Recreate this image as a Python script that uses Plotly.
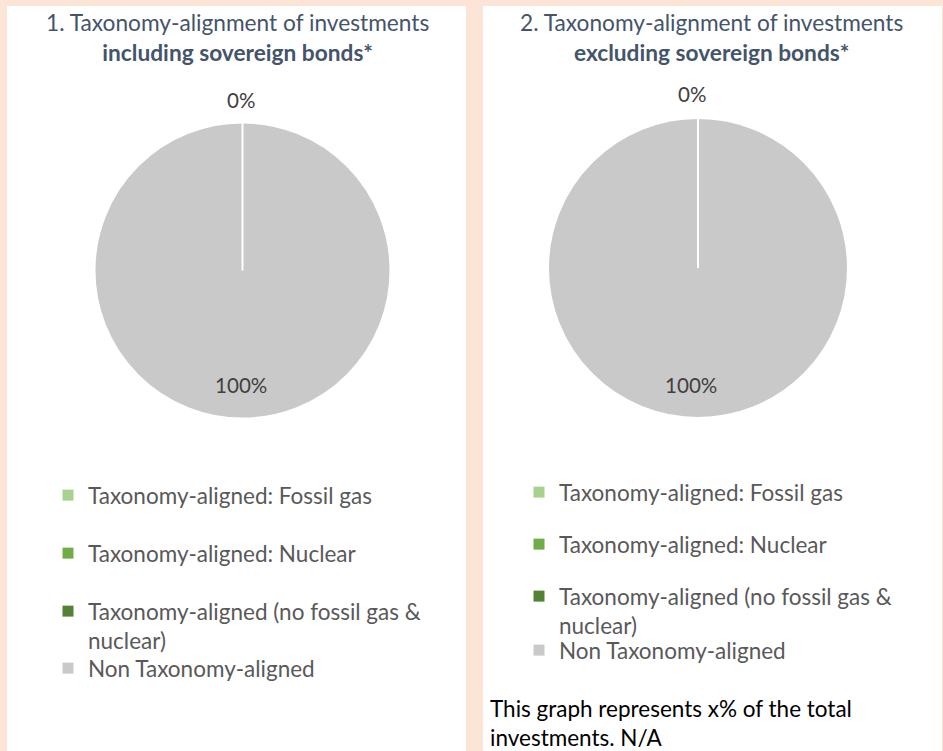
import plotly.graph_objects as go

W, H = 943, 751

categories = [
    "Taxonomy-aligned: Fossil gas",
    "Taxonomy-aligned: Nuclear",
    "Taxonomy-aligned (no fossil gas &<br>nuclear)",
    "Non Taxonomy-aligned",
]
colors = ["#A9D18E", "#70AD47", "#548235", "#C9C9C9"]

values_incl = [0, 0, 0, 100]
values_excl = [0, 0, 0, 100]

titles = [
    "1. Taxonomy-alignment of investments<br><b>including sovereign bonds*</b>",
    "2. Taxonomy-alignment of investments<br><b>excluding sovereign bonds*</b>",
]
footnote = "This graph represents x% of the total<br>investments. N/A"

FONT = "Lato"
LEG_FS = 22.5


def px_x(v):
    return v / W


def px_y(v):
    return 1 - v / H


fig = go.Figure()

# pies: (center x, center y, radius) in pixels
pies = [(242.5, 270.5, 148, values_incl), (698, 268, 150, values_excl)]
shapes = [
    dict(type="rect", xref="paper", yref="paper", x0=px_x(7), x1=px_x(466),
         y0=0, y1=px_y(6), fillcolor="white", line=dict(width=0), layer="below"),
    dict(type="rect", xref="paper", yref="paper", x0=px_x(483), x1=px_x(942),
         y0=0, y1=px_y(6), fillcolor="white", line=dict(width=0), layer="below"),
]
for i, (cx, cy, r, vals) in enumerate(pies):
    fig.add_trace(go.Pie(
        labels=categories,
        values=vals,
        sort=False,
        direction="clockwise",
        rotation=0,
        marker=dict(colors=colors, line=dict(color="white", width=2)),
        textinfo="none",
        hoverinfo="label+percent",
        showlegend=False,
        domain=dict(x=[px_x(cx - r), px_x(cx + r)], y=[px_y(cy + r), px_y(cy - r)]),
    ))
    # boundary of the zero-width slices (start of the pie at 12 o'clock)
    if any(v == 0 for v in vals):
        shapes.append(dict(type="line", xref="paper", yref="paper",
                           x0=px_x(cx), x1=px_x(cx), y0=px_y(cy), y1=px_y(cy - r - 1),
                           line=dict(color="white", width=2), layer="above"))

# legend entries: first three in one legend, last one in its own legend
legend_names = [["legend", "legend", "legend", "legend3"],
                ["legend2", "legend2", "legend2", "legend4"]]
for li in range(2):
    for k, (cat, col) in enumerate(zip(categories, colors)):
        lg = legend_names[li][k]
        fig.add_trace(go.Scatter(
            x=[None], y=[None], mode="markers",
            marker=dict(symbol="square", size=11, color=col),
            name=cat, legend=lg, legendgroup=f"{li}_{k}",
            showlegend=True, hoverinfo="skip",
        ))

annotations = []
# titles
for tx, t in zip([237, 711], titles):
    annotations.append(dict(
        text=t, x=px_x(tx), y=px_y(7), xref="paper", yref="paper",
        xanchor="center", yanchor="top", showarrow=False, align="center",
        font=dict(family=FONT, size=22.7, color="#44546A"),
    ))
# data labels
label_pos = [((241, 100), (240.5, 385)), ((692, 94), (691, 385))]
for (cx, cy, r, vals), (p0, p100) in zip(pies, label_pos):
    total = sum(vals)
    pct0 = round(vals[0] / total * 100)
    pct_last = round(vals[-1] / total * 100)
    for (lx, ly), pct in ((p0, pct0), (p100, pct_last)):
        annotations.append(dict(
            text=f"{pct}%", x=px_x(lx), y=px_y(ly), xref="paper", yref="paper",
            xanchor="center", yanchor="middle", showarrow=False,
            font=dict(family=FONT, size=20.6, color="#404040"),
        ))
# footnote
annotations.append(dict(
    text=footnote, x=px_x(488), y=px_y(693), xref="paper", yref="paper",
    xanchor="left", yanchor="top", showarrow=False, align="left",
    font=dict(family=FONT, size=22.5, color="#000000"),
))

legend_common = dict(
    bgcolor="rgba(0,0,0,0)", borderwidth=0, valign="top",
    font=dict(family=FONT, size=LEG_FS, color="#595959"),
    xanchor="left", yanchor="top", itemclick=False, itemdoubleclick=False,
)

fig.update_layout(
    width=W, height=H,
    margin=dict(l=0, r=0, t=0, b=0, autoexpand=False),
    paper_bgcolor="#FCE4D6",
    plot_bgcolor="rgba(0,0,0,0)",
    xaxis=dict(visible=False),
    yaxis=dict(visible=False),
    shapes=shapes,
    annotations=annotations,
    legend=dict(x=px_x(48), y=px_y(474), tracegroupgap=25.75, **legend_common),
    legend3=dict(x=px_x(48), y=px_y(647), **legend_common),
    legend2=dict(x=px_x(519), y=px_y(471), tracegroupgap=19.75, **legend_common),
    legend4=dict(x=px_x(519), y=px_y(629), **legend_common),
)

fig.write_html(
    "out.html",
    config={"displayModeBar": False},
    post_script="document.body.style.margin='0';document.body.style.overflow='hidden';",
)
